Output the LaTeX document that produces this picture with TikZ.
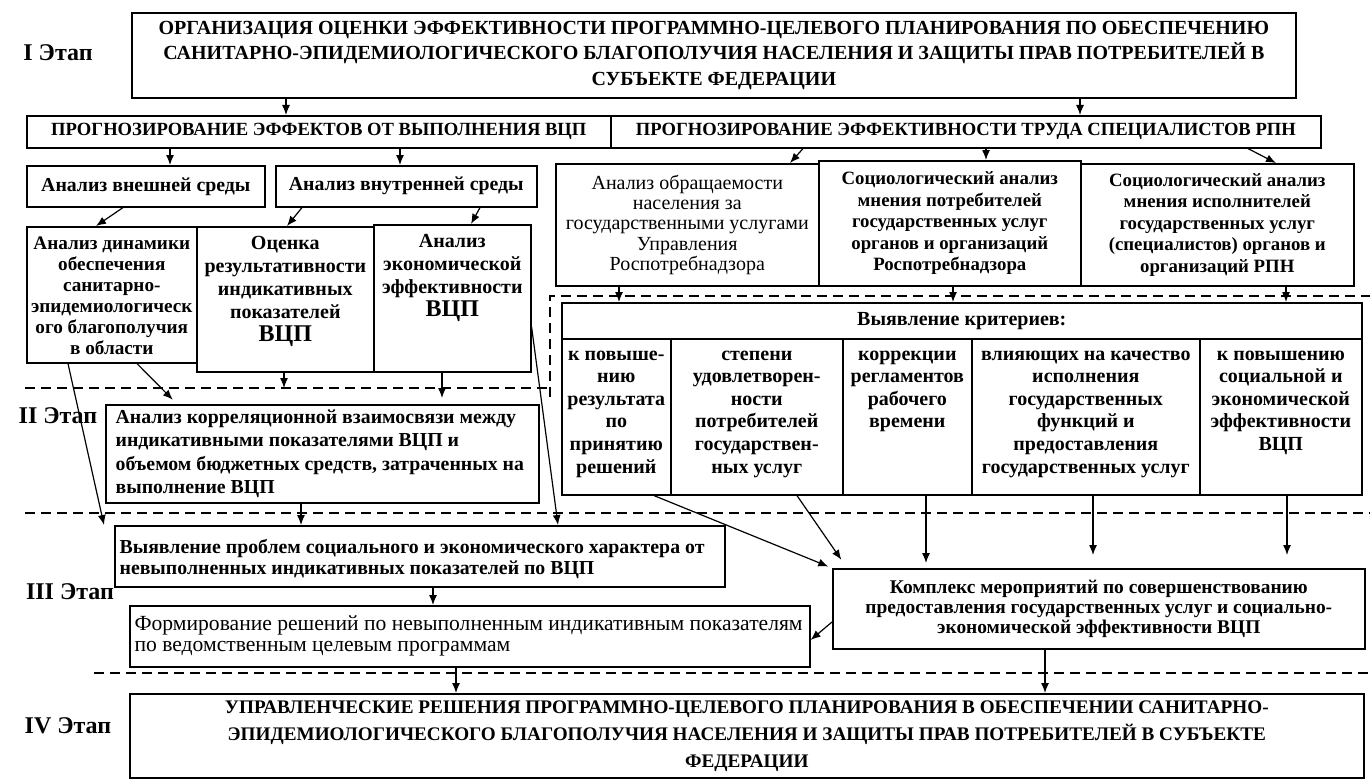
\documentclass[tikz,border=0pt]{standalone}
\usepackage{fontspec}
\setmainfont{Liberation Serif}
\usetikzlibrary{arrows.meta,positioning}

\begin{document}
\begin{tikzpicture}[x=0.5pt,y=-0.5pt,>={Latex[length=5pt,width=4pt]}]
\tikzstyle{every node}=[font=\bfseries\fontsize{10}{11}\selectfont]
\tikzstyle{box}=[draw, thick, anchor=north west, inner sep=0pt, align=center]
\tikzstyle{txt}=[align=center, below, inner sep=0pt]
\tikzstyle{coltxt}=[txt, font=\bfseries\fontsize{10}{11.3}\selectfont]
\tikzstyle{stage}=[font=\bfseries\fontsize{12}{14}\selectfont]
\tikzstyle{sep}=[semithick, dash pattern=on 5pt off 3pt]
\tikzstyle{every path}=[semithick]
\useasboundingbox (0,0) rectangle (1370,781);

% stage borders
\draw[sep] (25,388) -- (550,388);
\draw[sep] (550,397) -- (550,296) -- (1370,296);
\draw[sep] (25,513) -- (1370,513);
\draw[sep] (94,673) -- (1370,673);

% stage I
\node[stage] (s1) at (58,53) {I Этап};
\node[box, minimum width=582pt, minimum height=42.5pt, font=\bfseries\fontsize{10}{12.75}\selectfont] (T) at (131,12)
  {ОРГАНИЗАЦИЯ ОЦЕНКИ ЭФФЕКТИВНОСТИ ПРОГРАММНО-ЦЕЛЕВОГО ПЛАНИРОВАНИЯ ПО ОБЕСПЕЧЕНИЮ\\
   САНИТАРНО-ЭПИДЕМИОЛОГИЧЕСКОГО БЛАГОПОЛУЧИЯ НАСЕЛЕНИЯ И ЗАЩИТЫ ПРАВ ПОТРЕБИТЕЛЕЙ В\\
   СУБЪЕКТЕ ФЕДЕРАЦИИ};
\node[box, minimum width=292pt, minimum height=16pt, font=\bfseries\fontsize{9.3}{11}\selectfont] (P1) at (26,115)
  {ПРОГНОЗИРОВАНИЕ ЭФФЕКТОВ ОТ ВЫПОЛНЕНИЯ ВЦП};
\node[box, minimum width=355pt, minimum height=16pt, font=\bfseries\fontsize{9.3}{11}\selectfont] (P2) at (610,115)
  {ПРОГНОЗИРОВАНИЕ ЭФФЕКТИВНОСТИ ТРУДА СПЕЦИАЛИСТОВ РПН};

\node[box, minimum width=119pt, minimum height=20.5pt, font=\bfseries\fontsize{9.9}{11}\selectfont] (A1) at (26,165) {Анализ внешней среды};
\node[box, minimum width=130.5pt, minimum height=20.5pt, font=\bfseries\fontsize{9.9}{11}\selectfont] (A2) at (275,165) {Анализ внутренней среды};

\node[box, minimum width=131.5pt, minimum height=61pt, font=\fontsize{10}{10.2}\selectfont] (B1) at (555,163)
  {Анализ обращаемости\\населения за\\государственными услугами\\Управления\\Роспотребнадзора};
\node[box, minimum width=131pt, minimum height=62.5pt, font=\bfseries\fontsize{9.4}{10.8}\selectfont] (B2) at (818,160)
  {Социологический анализ\\мнения потребителей\\государственных услуг\\органов и организаций\\Роспотребнадзора};
\node[box, minimum width=136.5pt, minimum height=61pt, font=\bfseries\fontsize{9.4}{10.8}\selectfont] (B3) at (1080,163)
  {Социологический анализ\\мнения исполнителей\\государственных услуг\\(специалистов) органов и\\организаций РПН};

\node[box, minimum width=85pt, minimum height=68pt] (D1) at (26,226) {};
\node[box, minimum width=88.5pt, minimum height=72.5pt] (D2) at (196,226) {};
\node[box, minimum width=78.5pt, minimum height=73.5pt] (D3) at (373,224) {};
\node[txt, font=\bfseries\fontsize{9.6}{10.5}\selectfont] (D1t) at ([yshift=-5pt]D1.north)
  {Анализ динамики\\обеспечения\\санитарно-\\эпидемиологическ\\ого благополучия\\в области};
\node[txt, font=\bfseries\fontsize{10}{11.5}\selectfont] (D2t) at ([yshift=-5pt]D2.north)
  {Оценка\\результативности\\индикативных\\показателей\\{\fontsize{12}{11.5}\selectfont ВЦП}};
\node[txt, font=\bfseries\fontsize{10}{11.5}\selectfont] (D3t) at ([yshift=-5pt]D3.north)
  {Анализ\\экономической\\эффективности\\{\fontsize{12}{11.5}\selectfont ВЦП}};

% criteria
\node[box, minimum width=400pt, minimum height=18pt] (K) at (561,302) {Выявление критериев:};
\node[box, minimum width=54.5pt, minimum height=78pt] (c1) at (561,338) {};
\node[box, minimum width=86pt, minimum height=78pt] (c2) at (670,338) {};
\node[box, minimum width=64.5pt, minimum height=78pt] (c3) at (842,338) {};
\node[box, minimum width=114pt, minimum height=78pt] (c4) at (971,338) {};
\node[box, minimum width=81pt, minimum height=78pt] (c5) at (1199,338) {};
\node[coltxt] (c1t) at ([yshift=-6pt]c1.north) {к повыше-\\нию\\результата\\по\\принятию\\решений};
\node[coltxt] (c2t) at ([yshift=-6pt]c2.north) {степени\\удовлетворен-\\ности\\потребителей\\государствен-\\ных услуг};
\node[coltxt] (c3t) at ([yshift=-6pt]c3.north) {коррекции\\регламентов\\рабочего\\времени};
\node[coltxt] (c4t) at ([yshift=-6pt]c4.north) {влияющих на качество\\исполнения\\государственных\\функций и\\предоставления\\государственных услуг};
\node[coltxt] (c5t) at ([yshift=-6pt]c5.north) {к повышению\\социальной и\\экономической\\эффективности\\ВЦП};

% stage II
\node[stage] (s2) at (58,416) {II Этап};
\node[box, minimum width=216.5pt, minimum height=49pt] (E) at (105,404) {};
\node[right, align=left, inner sep=0pt, font=\bfseries\fontsize{9.9}{11.8}\selectfont] (Et) at ([xshift=5pt]E.west)
  {Анализ корреляционной взаимосвязи между\\индикативными показателями ВЦП и\\объемом бюджетных средств, затраченных на\\выполнение ВЦП};

% stage III
\node[stage] (s3) at (70,592) {III Этап};
\node[box, minimum width=305pt, minimum height=30.5pt] (F) at (114,525) {};
\node[right, align=left, inner sep=0pt, font=\bfseries\fontsize{9.9}{10.5}\selectfont] (Ft) at ([xshift=2.5pt,yshift=-1.5pt]F.west)
  {Выявление проблем социального и экономического характера от\\невыполненных индикативных показателей по ВЦП};
\node[box, minimum width=340pt, minimum height=30.5pt] (G) at (129,605) {};
\node[right, align=left, inner sep=0pt, font=\fontsize{10.8}{10.5}\selectfont] (Gt) at ([xshift=2.5pt]G.west)
  {Формирование решений по невыполненным индикативным показателям\\по ведомственным целевым программам};
\node[box, minimum width=266pt, minimum height=40pt, font=\bfseries\fontsize{9.7}{10.2}\selectfont] (H) at (832,568)
  {Комплекс мероприятий по совершенствованию\\предоставления государственных услуг и социально-\\экономической эффективности ВЦП};

% stage IV
\node[stage] (s4) at (68,726) {IV Этап};
\node[box, minimum width=617pt, minimum height=42pt, font=\bfseries\fontsize{9.6}{13.5}\selectfont] (Z) at (129,693)
  {УПРАВЛЕНЧЕСКИЕ РЕШЕНИЯ ПРОГРАММНО-ЦЕЛЕВОГО ПЛАНИРОВАНИЯ В ОБЕСПЕЧЕНИИ САНИТАРНО-\\
   ЭПИДЕМИОЛОГИЧЕСКОГО БЛАГОПОЛУЧИЯ НАСЕЛЕНИЯ И ЗАЩИТЫ ПРАВ ПОТРЕБИТЕЛЕЙ В СУБЪЕКТЕ\\
   ФЕДЕРАЦИИ};

% arrows
\draw[->] (T.south -| 286,0) -- (P1.north -| 286,0);
\draw[->] (T.south -| 1080,0) -- (P2.north -| 1080,0);
\draw[->] (P1.south -| 170,0) -- (A1.north -| 170,0);
\draw[->] (P1.south -| 400,0) -- (A2.north -| 400,0);
\draw[->] (P2.south -| 803,0) -- (B1.north -| 790,0);
\draw[->] (P2.south -| 986,0) -- (B2.north -| 986,0);
\draw[->] (P2.south -| 1248,0) -- (B3.north -| 1276,0);
\draw[->] (A1.south -| 123,0) -- (D1.north -| 96,0);
\draw[->] (A2.south -| 302,0) -- (D2.north -| 287,0);
\draw[->] (A2.south -| 480,0) -- (D3.north -| 471,0);
\draw[->] (B1.south -| 619,0) -- (K.north -| 619,0);
\draw[->] (B2.south -| 953,0) -- (K.north -| 953,0);
\draw[->] (B3.south -| 1286,0) -- (K.north -| 1286,0);
\draw[->, shorten >=3pt] (D1.south -| 137,0) -- (E.north -| 177,0);
\draw[->, shorten >=8pt] (D2.south -| 284,0) -- (E.north -| 284,0);
\draw[->, shorten >=3pt] (D3.south -| 442,0) -- (E.north -| 442,0);
\draw[->] (D1.south -| 68,0) -- ([xshift=-5pt]F.north west);
\draw[->] (D3.east |- 0,327) -- (F.north -| 558,0);
\draw[->] (E.south -| 301,0) -- (F.north -| 301,0);
\draw[->] (F.south -| 433,0) -- (G.north -| 433,0);
\draw[->, shorten >=2pt] (c1.south -| 654,0) -- (H.north west);
\draw[->, shorten >=5pt] (c2.south -| 797,0) -- (H.north -| 847,0);
\draw[->, shorten >=2.5pt] (c3.south -| 926,0) -- (H.north -| 926,0);
\draw[->, shorten >=6.5pt] (c4.south -| 1093,0) -- (H.north -| 1093,0);
\draw[->, shorten >=6.5pt] (c5.south -| 1287,0) -- (H.north -| 1287,0);
\draw[->] (H.west |- 0,622) -- (G.east |- 0,640);
\draw[->] (G.south -| 456,0) -- (Z.north -| 456,0);
\draw[->] (H.south -| 1045,0) -- (Z.north -| 1045,0);
\end{tikzpicture}
\end{document}
